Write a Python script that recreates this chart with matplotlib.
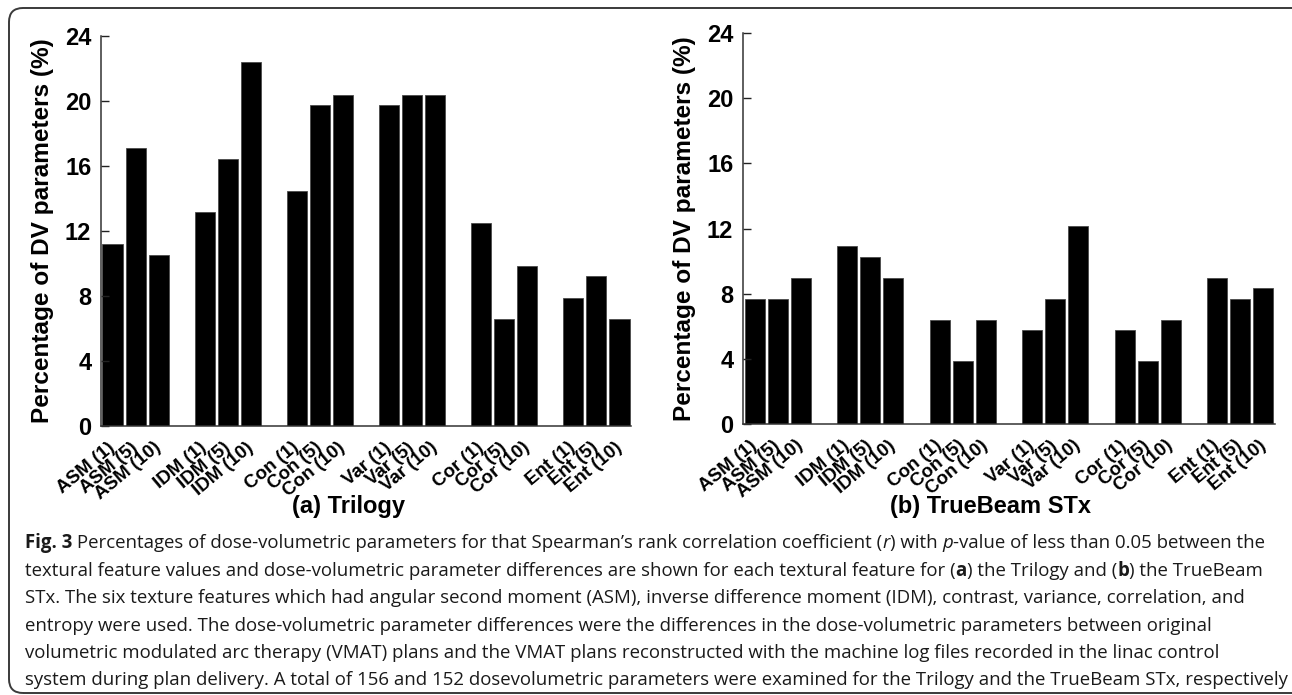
import matplotlib
matplotlib.use("Agg")
import matplotlib.pyplot as plt
from matplotlib.patches import FancyBboxPatch
from matplotlib.transforms import IdentityTransform
from matplotlib.font_manager import FontProperties

# ---------------- data ----------------
features = ["ASM", "IDM", "Con", "Var", "Cor", "Ent"]
scales = ["1", "5", "10"]
trilogy = [11.18, 17.11, 10.53, 13.16, 16.45, 22.37, 14.47, 19.74, 20.39,
           19.74, 20.39, 20.39, 12.50, 6.58, 9.87, 7.89, 9.21, 6.58]
truebeam = [7.69, 7.69, 8.97, 10.90, 10.26, 8.97, 6.41, 3.85, 6.41,
            5.77, 7.69, 12.18, 5.77, 3.85, 6.41, 8.97, 7.69, 8.33]
yticks = [0, 4, 8, 12, 16, 20, 24]
panel_titles = ["(a) Trilogy", "(b) TrueBeam STx"]
ylabel = "Percentage of DV parameters (%)"

caption_lines = [
    [("Fig. 3", "b"), (" Percentages of dose-volumetric parameters for that Spearman\u2019s rank correlation coefficient (", "n"),
     ("r", "i"), (") with ", "n"), ("p", "i"), ("-value of less than 0.05 between the", "n")],
    [("textural feature values and dose-volumetric parameter differences are shown for each textural feature for (", "n"),
     ("a", "b"), (") the Trilogy and (", "n"), ("b", "b"), (") the TrueBeam", "n")],
    [("STx. The six texture features which had angular second moment (ASM), inverse difference moment (IDM), contrast, variance, correlation, and", "n")],
    [("entropy were used. The dose-volumetric parameter differences were the differences in the dose-volumetric parameters between original", "n")],
    [("volumetric modulated arc therapy (VMAT) plans and the VMAT plans reconstructed with the machine log files recorded in the linac control", "n")],
    [("system during plan delivery. A total of 156 and 152 dosevolumetric parameters were examined for the Trilogy and the TrueBeam STx, respectively", "n")],
]

labels = [f"{f} ({s})" for f in features for s in scales]
positions = [4 * g + i for g in range(len(features)) for i in range(len(scales))]

W, H = 1292, 695
fig = plt.figure(figsize=(W / 100, H / 100), dpi=100)

FONT = "Liberation Sans"

def make_axes(rect_px, values, title, title_x):
    x0, y_top, x1, y_bot = rect_px
    ax = fig.add_axes([x0 / W, 1 - y_bot / H, (x1 - x0) / W, (y_bot - y_top) / H])
    ax.bar(positions, values, width=0.87, color="black", edgecolor="#4a4a4a", linewidth=0.6)
    ax.set_xlim(-0.5, 22.5)
    ax.set_ylim(0, 24)
    ax.set_yticks(yticks)
    ax.set_yticklabels([str(t) for t in yticks], fontfamily=FONT, fontweight="bold", fontsize=17)
    ax.set_xticks(positions)
    ax.set_xticklabels(labels, rotation=40, ha="right", va="center", rotation_mode="anchor",
                       fontfamily=FONT, fontweight="bold", fontsize=13.5)
    ax.tick_params(axis="x", length=0, pad=14)
    ax.tick_params(axis="y", direction="in", length=6, width=1.0, pad=7, color="#222222")
    for s in ["top", "right"]:
        ax.spines[s].set_visible(False)
    for s in ["left", "bottom"]:
        ax.spines[s].set_linewidth(1.1)
        ax.spines[s].set_color("#333333")
    ax.set_ylabel(ylabel, fontfamily=FONT, fontweight="bold", fontsize=17.6)
    ax.yaxis.set_label_coords(-47 / (x1 - x0), 0.5)
    fig.text(title_x / W, 1 - 506 / H, title, ha="center", va="center",
             fontfamily=FONT, fontweight="bold", fontsize=17)
    return ax

ax1 = make_axes((101, 36, 631, 426), trilogy, panel_titles[0], 348)
ax2 = make_axes((743, 33, 1275, 424), truebeam, panel_titles[1], 990)

# frame with rounded corners
frame = FancyBboxPatch((9, 2), 1300, 685, boxstyle="round,pad=0,rounding_size=14",
                       transform=IdentityTransform(), fill=False, edgecolor="#3a3a3a",
                       linewidth=1.4, figure=fig)
fig.patches.append(frame)

# caption
renderer = fig.canvas.get_renderer()

def props(style, size):
    return FontProperties(family="Open Sans",
                          weight="bold" if style == "b" else "normal",
                          style="italic" if style == "i" else "normal",
                          size=size)

def width_of(s, fp):
    w1, _, _ = renderer.get_text_width_height_descent("|" + s + "|", fp, ismath=False)
    w0, _, _ = renderer.get_text_width_height_descent("||", fp, ismath=False)
    return w1 - w0

ref_size = 10.0
ref_w = sum(width_of(t, props(st, ref_size)) for t, st in caption_lines[5])
cap_size = ref_size * (1258 / ref_w)

line_y = [543, 571, 598, 626, 653, 680]
for pieces, yy in zip(caption_lines, line_y):
    x = 25
    for txt, st in pieces:
        fp = props(st, cap_size)
        fig.text(x, H - yy, txt, transform=IdentityTransform(), fontproperties=fp,
                 ha="left", va="center", color="#1a1a1a")
        x += width_of(txt, fp)

fig.savefig("out.png", dpi=100)
